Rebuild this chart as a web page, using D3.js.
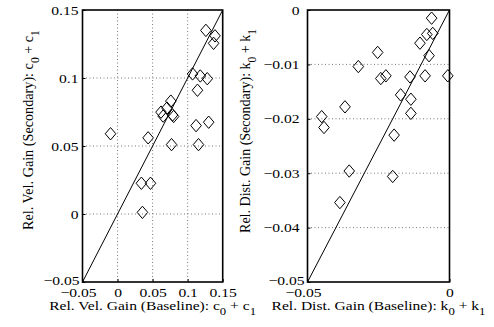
<!DOCTYPE html>
<html>
<head>
<meta charset="utf-8">
<script src="https://cdn.jsdelivr.net/npm/d3@7/dist/d3.min.js"></script>
<style>
  html, body { margin: 0; padding: 0; background: #fff; }
  svg { display: block; }
  text { font-family: "Liberation Serif", "Times New Roman", serif; fill: #000; }
</style>
</head>
<body>
<svg id="fig" width="494" height="327"></svg>
<script>
// Velocity gain: baseline vs secondary (c0 + c1)
const velBaseline  = [0.126, 0.139, 0.137, 0.107, 0.118, 0.128, 0.114, 0.130, 0.112, 0.1155, 0.077, 0.076,
                      0.062, 0.065, 0.0705, 0.0785, 0.080, 0.0436, -0.010, 0.034, 0.047, 0.0355];
const velSecondary = [0.135, 0.131, 0.1255, 0.103, 0.1015, 0.0995, 0.091, 0.0675, 0.065, 0.051, 0.051, 0.083,
                      0.0749, 0.072, 0.0779, 0.0728, 0.0717, 0.056, 0.059, 0.0226, 0.0226, 0.0012];

// Distance gain: baseline vs secondary (k0 + k1)
const distBaseline  = [-0.0063, -0.0080, -0.0059, -0.0104, -0.0072, -0.0086, -0.0006, -0.0139, -0.0253, -0.0321, -0.0242,
                       -0.0224, -0.0172, -0.0136, -0.0136, -0.0368, -0.0450, -0.0442, -0.0195, -0.0353, -0.0200, -0.0386];
const distSecondary = [-0.0015, -0.0045, -0.0043, -0.0061, -0.0084, -0.0121, -0.0121, -0.0123, -0.0078, -0.0104, -0.0126,
                       -0.0121, -0.0156, -0.0164, -0.0190, -0.0178, -0.0196, -0.0216, -0.0230, -0.0296, -0.0306, -0.0354];

// Axis limits and tick values
const velDomain  = [-0.05, 0.15];
const velTicks   = [-0.05, 0, 0.05, 0.1, 0.15];
const velTickLabels = ["\u22120.05", "0", "0.05", "0.1", "0.15"];
const distDomain = [-0.05, 0];
const distXTicks = [-0.05, 0];
const distXTickLabels = ["\u22120.05", "0"];
const distYTicks = [-0.05, -0.04, -0.03, -0.02, -0.01, 0];
const distYTickLabels = ["\u22120.05", "\u22120.04", "\u22120.03", "\u22120.02", "\u22120.01", "0"];

const svg = d3.select("#fig");
const WIDE = 1.2;    // horizontal stretch of the lettering
const FS = 13;       // base font size

// diamond marker, slightly taller than wide
const diamond = {
  draw(ctx, size) {
    const w = 5.3, h = 6.2;
    ctx.moveTo(0, -h); ctx.lineTo(w, 0); ctx.lineTo(0, h); ctx.lineTo(-w, 0); ctx.closePath();
  }
};

function panel(opt) {
  const g = svg.append("g");
  const x = d3.scaleLinear().domain(opt.domain).range([opt.left, opt.right]);
  const y = d3.scaleLinear().domain(opt.domain).range([opt.bottom, opt.top]);

  // dotted grid (interior only)
  const eps = 1e-9;
  const inner = (t, d) => t > d[0] + eps && t < d[1] - eps;
  g.append("g").selectAll("line").data(opt.xTicks.filter(t => inner(t, opt.domain))).join("line")
    .attr("x1", d => x(d)).attr("x2", d => x(d))
    .attr("y1", opt.top).attr("y2", opt.bottom)
    .attr("stroke", "#555").attr("stroke-width", 0.8).attr("stroke-dasharray", "1,2.5");
  g.append("g").selectAll("line").data(opt.yTicks.filter(t => inner(t, opt.domain))).join("line")
    .attr("y1", d => y(d)).attr("y2", d => y(d))
    .attr("x1", opt.left).attr("x2", opt.right)
    .attr("stroke", "#555").attr("stroke-width", 0.8).attr("stroke-dasharray", "1,2.5");

  // identity reference line
  g.append("line")
    .attr("x1", x(opt.domain[0])).attr("y1", y(opt.domain[0]))
    .attr("x2", x(opt.domain[1])).attr("y2", y(opt.domain[1]))
    .attr("stroke", "#000").attr("stroke-width", 1);

  // data markers
  const sym = d3.symbol().type(diamond);
  g.append("g").selectAll("path").data(d3.range(opt.xs.length)).join("path")
    .attr("d", sym)
    .attr("transform", i => `translate(${x(opt.xs[i])},${y(opt.ys[i])})`)
    .attr("fill", "none").attr("stroke", "#000").attr("stroke-width", 1);

  // box
  g.append("rect")
    .attr("x", opt.left).attr("y", opt.top)
    .attr("width", opt.right - opt.left).attr("height", opt.bottom - opt.top)
    .attr("fill", "none").attr("stroke", "#000").attr("stroke-width", 1.6);

  // axes (tick marks inward, labels outside)
  const xAxis = d3.axisBottom(x).tickValues(opt.xTicks)
    .tickFormat((d, i) => opt.xTickLabels[i]).tickSizeInner(-3).tickSizeOuter(0);
  const ax = g.append("g").attr("transform", `translate(0,${opt.bottom})`).call(xAxis);
  ax.select(".domain").remove();
  ax.selectAll("line").attr("stroke", "#000");
  ax.selectAll("text")
    .attr("font-size", FS).attr("font-family", "Liberation Serif")
    .attr("y", null).attr("dy", null)
    .attr("transform", d => `translate(${d < 0 ? -4.5 : 0},15) scale(${WIDE},1)`);

  const yAxis = d3.axisLeft(y).tickValues(opt.yTicks)
    .tickFormat((d, i) => opt.yTickLabels[i]).tickSizeInner(-3).tickSizeOuter(0);
  const ay = g.append("g").attr("transform", `translate(${opt.left},0)`).call(yAxis);
  ay.select(".domain").remove();
  ay.selectAll("line").attr("stroke", "#000");
  ay.selectAll("text")
    .attr("font-size", FS).attr("font-family", "Liberation Serif")
    .attr("x", null)
    .attr("transform", d => d === opt.domain[0]
      ? `translate(${-opt.padBottom},-2) scale(${WIDE},1)`
      : `translate(${-opt.pad},0) scale(${WIDE},1)`);

  // axis titles with subscripts, stretched to their set lengths
  const xl = g.append("text").attr("text-anchor", "middle").attr("font-size", FS);
  addLabel(xl, opt.xTitle, opt.sym);
  const kx = opt.xTitleLen / xl.node().getBBox().width;
  xl.attr("transform", `translate(${(opt.left + opt.right) / 2},310) scale(${kx},1)`);

  const yl = g.append("text").attr("text-anchor", "middle").attr("font-size", FS);
  addLabel(yl, opt.yTitle, opt.sym);
  const ky = opt.yTitleLen / yl.node().getBBox().width;
  yl.attr("transform", `translate(${opt.yTitleX},${opt.yTitleY}) scale(${WIDE},${ky}) rotate(-90)`);
}

function addLabel(sel, base, s) {
  sel.append("tspan").text(base + s);
  sel.append("tspan").attr("dy", 5).attr("font-size", "0.82em").text("0");
  sel.append("tspan").attr("dy", -5).text(" + " + s);
  sel.append("tspan").attr("dy", 5).attr("font-size", "0.82em").text("1");
}

panel({
  left: 82.5, right: 222.7, top: 10, bottom: 282,
  domain: velDomain, xs: velBaseline, ys: velSecondary,
  xTicks: velTicks, xTickLabels: velTickLabels,
  yTicks: velTicks, yTickLabels: velTickLabels,
  xTitle: "Rel. Vel. Gain (Baseline): ", yTitle: "Rel. Vel. Gain (Secondary): ", sym: "c",
  xTitleLen: 207, yTitleLen: 200,
  yTitleX: 33, yTitleY: 130, pad: 4, padBottom: 3
});

panel({
  left: 307.5, right: 449.5, top: 10, bottom: 282,
  domain: distDomain, xs: distBaseline, ys: distSecondary,
  xTicks: distXTicks, xTickLabels: distXTickLabels,
  yTicks: distYTicks, yTickLabels: distYTickLabels,
  xTitle: "Rel. Dist. Gain (Baseline): ", yTitle: "Rel. Dist. Gain (Secondary): ", sym: "k",
  xTitleLen: 214, yTitleLen: 204,
  yTitleX: 250, yTitleY: 131, pad: 8, padBottom: 3
});
</script>
</body>
</html>
